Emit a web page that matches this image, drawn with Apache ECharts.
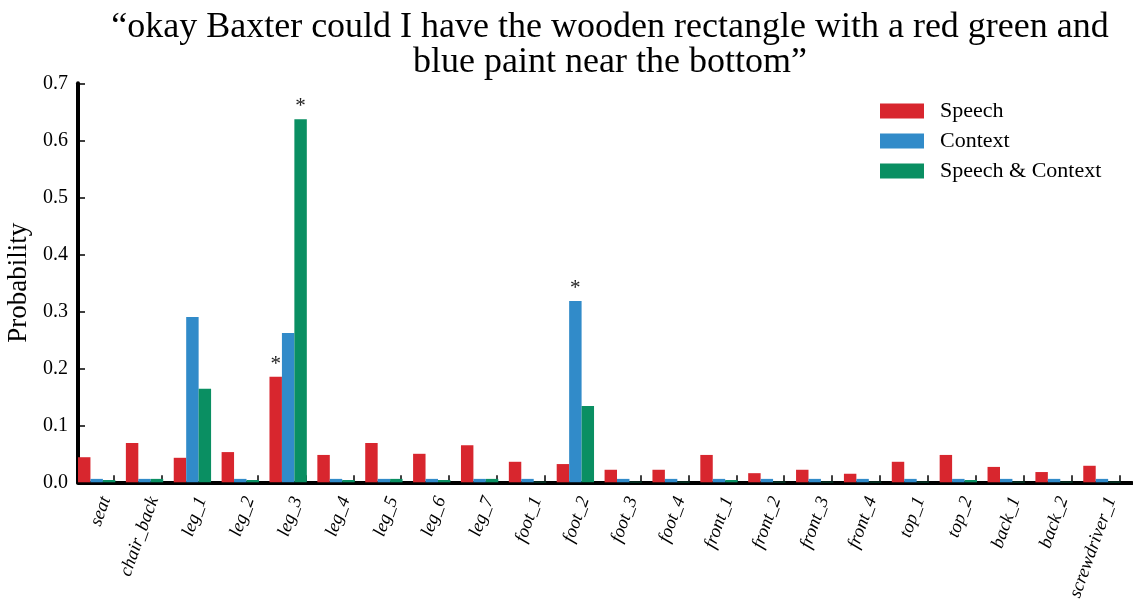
<!DOCTYPE html>
<html><head><meta charset="utf-8">
<script src="https://cdn.jsdelivr.net/npm/echarts@6/dist/echarts.min.js"></script>
<style>html,body{margin:0;padding:0;background:#fff}#c{width:1133px;height:599px}</style>
</head><body><div id="c"></div>
<script>
const categories = ['seat','chair_back','leg_1','leg_2','leg_3','leg_4','leg_5','leg_6','leg_7','foot_1','foot_2','foot_3','foot_4','front_1','front_2','front_3','front_4','top_1','top_2','back_1','back_2','screwdriver_1'];
const speech =  [0.044,0.069,0.043,0.053,0.185,0.048,0.069,0.050,0.065,0.036,0.032,0.022,0.022,0.048,0.016,0.022,0.015,0.036,0.048,0.027,0.018,0.029];
const context = [0.006,0.006,0.290,0.006,0.262,0.006,0.006,0.006,0.006,0.006,0.318,0.006,0.006,0.006,0.006,0.006,0.006,0.006,0.006,0.006,0.006,0.006];
const both =    [0.004,0.006,0.164,0.004,0.637,0.004,0.006,0.004,0.006,0.001,0.134,0.001,0.001,0.004,0.001,0.001,0.001,0.001,0.004,0.001,0.001,0.001];
// indices of bars marked with an asterisk
const starSpeech = [4];
const starContext = [10];
const starBoth = [4];
const seriesNames = ['Speech','Context','Speech & Context'];
const colors = ['#d8262e','#318bc9','#0a8f62'];

const P = 47.87;
const TOP = 83.3, H = 399;
const serif = 'Liberation Serif';

function withStars(vals, stars){
  return vals.map((v,i)=> stars.includes(i) ? {value:v, label:{show:true, formatter:'*', position:'top', distance:2, fontSize:21, fontFamily:serif, color:'#222'}} : v);
}

const chart = echarts.init(document.getElementById('c'), null, {renderer:'canvas'});
chart.setOption({
  animation:false,
  backgroundColor:'#fff',
  title:{
    text:'\u201Cokay Baxter could I have the wooden rectangle with a red green and\nblue paint near the bottom\u201D',
    left:605, top:5, textAlign:'center',
    textStyle:{fontFamily:serif, fontWeight:'normal', fontSize:36, lineHeight:35, color:'#000'}
  },
  legend:{
    data:seriesNames, orient:'vertical', left:875, top:95,
    itemWidth:44, itemHeight:15, itemGap:8, icon:'rect',
    textStyle:{fontFamily:serif, fontSize:22, color:'#000', padding:[0,0,0,11]}
  },
  grid:[
    {left:78-0.11*P, top:TOP, width:22*P, height:H, outerBoundsMode:'none', containLabel:false},
    {left:78, top:TOP, right:1, height:H, outerBoundsMode:'none', containLabel:false},
    {left:82, top:TOP, width:22*P, height:H, outerBoundsMode:'none', containLabel:false},
    {left:114, top:TOP, width:21*P, height:H, outerBoundsMode:'none', containLabel:false}
  ],
  xAxis:[
    {gridIndex:0, type:'category', data:categories, show:false},
    {gridIndex:1, type:'value', min:0, max:1, axisLine:{show:true, lineStyle:{color:'#000', width:4}}, axisTick:{show:false}, axisLabel:{show:false}, splitLine:{show:false}},
    {gridIndex:2, type:'category', data:categories, axisLine:{show:false}, axisTick:{show:false},
      axisLabel:{interval:0, rotate:70, margin:15, fontFamily:serif, fontStyle:'italic', fontSize:18.5, color:'#000'}},
    {gridIndex:3, type:'category', data:categories.slice(1).map(()=>''), axisLine:{show:false}, axisLabel:{show:false},
      axisTick:{show:true, inside:true, length:7, alignWithLabel:false, lineStyle:{color:'#000', width:1.5}}}
  ],
  yAxis:[
    {gridIndex:0, type:'value', min:0, max:0.7, show:false},
    {gridIndex:1, type:'value', min:0, max:0.7, interval:0.1,
      name:'Probability', nameLocation:'middle', nameGap:44, nameTextStyle:{fontFamily:serif, fontSize:27, color:'#000'},
      axisLine:{show:true, lineStyle:{color:'#000', width:4}},
      axisTick:{show:true, inside:true, length:7, lineStyle:{color:'#000', width:1.5}},
      axisLabel:{margin:10, fontFamily:serif, fontSize:20, color:'#000', formatter:v=>v.toFixed(1)},
      splitLine:{show:false}},
    {gridIndex:2, type:'value', min:0, max:0.7, show:false},
    {gridIndex:3, type:'value', min:0, max:0.7, show:false}
  ],
  series:[
    {name:seriesNames[0], type:'bar', xAxisIndex:0, yAxisIndex:0, data:withStars(speech, starSpeech), itemStyle:{color:colors[0]}, barGap:'0%', barCategoryGap:'22%'},
    {name:seriesNames[1], type:'bar', xAxisIndex:0, yAxisIndex:0, data:withStars(context, starContext), itemStyle:{color:colors[1]}, barGap:'0%', barCategoryGap:'22%'},
    {name:seriesNames[2], type:'bar', xAxisIndex:0, yAxisIndex:0, data:withStars(both, starBoth), itemStyle:{color:colors[2]}, barGap:'0%', barCategoryGap:'22%'}
  ]
});
</script></body></html>
